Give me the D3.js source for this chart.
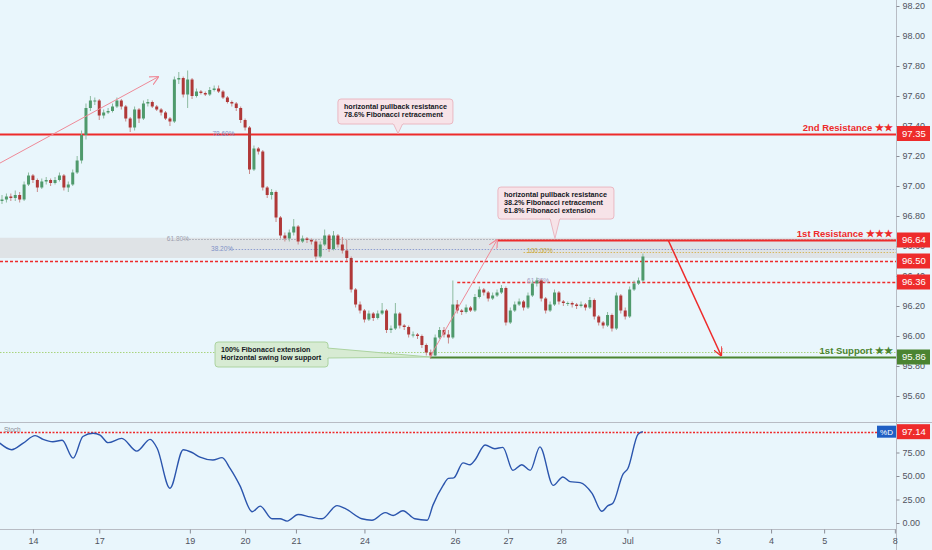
<!doctype html>
<html>
<head>
    <meta charset="utf-8">
    <title>DXY H2 - resistance / support</title>
    <script src="https://cdn.jsdelivr.net/npm/d3@7"></script>
    <style type="text/css">
        html, body { margin: 0; padding: 0; background: #e9f6fc; }
        svg { display: block; font-family: "Liberation Sans", Arial, sans-serif; }
    </style>
</head>
<body>
<svg id="chart" width="932" height="550"></svg>

<script type="text/javascript">
// 2h candles, bar index on x. open of a bar = close of the bar before
var firstOpen = 96.90;
var closes = [96.91,96.93,96.92,96.94,96.91,97.01,97.07,97.04,96.99,97.03,
    97.04,97.02,97.04,97.07,96.99,97.01,97.09,97.17,97.34,97.52,
    97.57,97.57,97.47,97.49,97.50,97.53,97.57,97.53,97.45,97.39,
    97.51,97.45,97.55,97.56,97.53,97.51,97.49,97.45,97.43,97.71,
    97.72,97.61,97.71,97.60,97.63,97.62,97.61,97.64,97.65,97.63,
    97.59,97.56,97.55,97.52,97.44,97.39,97.11,97.25,97.23,96.99,
    96.94,96.96,96.79,96.67,96.65,96.69,96.73,96.63,96.65,96.64,
    96.63,96.53,96.61,96.67,96.58,96.67,96.61,96.57,96.52,96.31,
    96.21,96.17,96.11,96.15,96.12,96.15,96.17,96.04,96.05,96.15,
    96.07,96.06,96.01,96.01,96.00,95.94,95.89,95.87,95.99,96.04,
    96.01,95.99,96.21,96.17,96.16,96.19,96.17,96.26,96.31,96.29,
    96.25,96.27,96.29,96.32,96.09,96.17,96.21,96.23,96.19,96.27,
    96.35,96.37,96.25,96.17,96.21,96.29,96.23,96.22,96.22,96.21,
    96.20,96.21,96.19,96.24,96.13,96.09,96.07,96.14,96.05,96.27,
    96.17,96.13,96.31,96.35,96.37,96.53];
var highs = [96.94,96.95,96.95,96.97,96.96,97.03,97.09,97.08,97.05,97.05,
    97.06,97.05,97.06,97.09,97.08,97.03,97.11,97.20,97.37,97.55,
    97.60,97.59,97.58,97.51,97.52,97.55,97.59,97.58,97.54,97.46,
    97.53,97.52,97.57,97.58,97.57,97.54,97.52,97.50,97.46,97.73,
    97.76,97.73,97.77,97.72,97.65,97.64,97.63,97.66,97.67,97.67,
    97.64,97.60,97.57,97.56,97.53,97.45,97.40,97.27,97.26,97.24,
    97.00,96.98,96.97,96.80,96.69,96.71,96.78,96.74,96.67,96.66,
    96.65,96.64,96.63,96.71,96.68,96.70,96.68,96.66,96.64,96.53,
    96.32,96.23,96.18,96.17,96.16,96.17,96.22,96.18,96.07,96.22,
    96.16,96.08,96.07,96.03,96.02,96.01,95.95,95.91,96.01,96.06,
    96.06,96.04,96.37,96.24,96.18,96.21,96.20,96.28,96.33,96.32,
    96.30,96.29,96.31,96.34,96.33,96.19,96.23,96.25,96.24,96.29,
    96.37,96.39,96.38,96.26,96.23,96.31,96.30,96.24,96.23,96.23,
    96.22,96.23,96.22,96.26,96.25,96.14,96.10,96.16,96.15,96.29,
    96.28,96.19,96.33,96.37,96.39,96.55];
var lows = [96.88,96.89,96.90,96.90,96.89,96.90,97.00,97.02,96.96,96.98,
    97.01,97.00,97.01,97.03,96.97,96.96,97.00,97.08,97.15,97.31,
    97.50,97.54,97.44,97.45,97.48,97.49,97.52,97.51,97.43,97.36,
    97.37,97.42,97.44,97.53,97.52,97.50,97.47,97.44,97.40,97.42,
    97.68,97.59,97.52,97.58,97.59,97.61,97.60,97.60,97.63,97.62,
    97.58,97.55,97.53,97.50,97.42,97.37,97.08,97.10,97.21,96.97,
    96.92,96.91,96.76,96.65,96.63,96.63,96.67,96.61,96.62,96.62,
    96.61,96.51,96.52,96.60,96.56,96.57,96.59,96.55,96.50,96.29,
    96.19,96.15,96.09,96.10,96.10,96.11,96.14,96.02,96.02,96.04,
    96.05,96.04,95.99,95.99,95.98,95.92,95.87,95.85,95.86,95.98,
    95.99,95.95,95.98,96.15,96.14,96.15,96.16,96.16,96.25,96.27,
    96.23,96.24,96.26,96.28,96.07,96.08,96.16,96.20,96.17,96.18,
    96.26,96.33,96.23,96.15,96.16,96.20,96.21,96.20,96.20,96.19,
    96.18,96.19,96.17,96.18,96.11,96.07,96.05,96.06,96.03,96.04,
    96.15,96.11,96.12,96.30,96.34,96.36];

// stochastic %D, read as [bar index, value]
var stochPts = [[-0.5,85],[2.2,78],[4.8,85],[7.5,93],[9.3,89],[11.5,86.5],[13.6,88],[16.1,69],
    [18.3,92],[20.6,95.5],[22.2,93.5],[24,85.5],[27.1,90],[30.5,76.5],[33.5,89],[35.1,79.5],
    [38,37],[41,78],[43,75],[44.8,70],[47.7,67],[49.8,69.5],[51.6,58],[53.8,40],[56.6,12],
    [58.4,18],[61.1,4.5],[62.9,4.5],[64.5,2],[67,9],[69.7,6.5],[72.4,4.5],[75.8,18.5],
    [77.6,15.5],[81.4,4.5],[83.7,3],[86.7,11],[88.5,8],[90.7,13],[93.4,4.5],[96.2,3],
    [97.5,19],[99.8,40],[101,47.5],[102.2,48],[104.3,64],[105.9,62],[107,67],[109.3,83],
    [111.5,79],[113.3,80.5],[115.6,56],[117.6,62],[119.5,56],[121.7,81],[124.7,40],
    [126.9,49],[128.5,44],[130.8,43],[133.5,31.5],[135.7,12.5],[137.1,18.5],[138.2,21],
    [140.5,52],[141.6,58],[143.9,94.5],[145,97.14]];

var dayTicks  = [7, 22, 42.5, 55, 66.5, 82, 102.5, 114.5, 126.5, 141.5, 162, 174, 186, 202];
var dayLabels = ["14","17","19","20","21","24","26","27","28","Jul","3","4","5","8"];
var priceTicks = [98.2, 98.0, 97.8, 97.6, 97.4, 97.2, 97.0, 96.8, 96.6, 96.4, 96.2, 96.0, 95.8, 95.6];
var stochTicks = [75, 50, 25, 0];

var res2 = 97.35, res1 = 96.64, midRes = 96.50, minorRes = 96.36, sup1 = 95.86;
var supDotted = 95.89;
var stochLast = 97.14;
// fib zone
var fibZone = [96.52, 96.655];
var fib618 = 96.647, fib382 = 96.583, fib100 = 96.56;

// -------------------------------------------------------------
var svg = d3.select("#chart");
var axisX = 896, sepY = 422, xAxisY = 529;
var RED = "#ee2b2b", GREEN = "#4b8431", UP = "#4f9a6c", DOWN = "#b03838";

var x = d3.scaleLinear().domain([0, 202.26]).range([2, axisX]);
var y = d3.scaleLinear().domain([95.6, 98.2]).range([396, 6]);
var ys = d3.scaleLinear().domain([0, 100]).range([523, 429]);

svg.append("rect").attr("width", 932).attr("height", 550).attr("fill", "#e9f6fc");

var defs = svg.append("defs");
defs.append("clipPath").attr("id", "mainClip")
    .append("rect").attr("x", 0).attr("y", 0).attr("width", axisX).attr("height", sepY);
function arrowMarker(id, color) {
    defs.append("marker").attr("id", id)
        .attr("viewBox", "0 0 10 10").attr("refX", 9).attr("refY", 5)
        .attr("markerWidth", 9).attr("markerHeight", 9).attr("markerUnits", "userSpaceOnUse")
        .attr("orient", "auto")
        .append("path").attr("d", "M0,0 L10,5 L0,10")
        .attr("fill", "none").attr("stroke", color).attr("stroke-width", 1.3);
}
arrowMarker("arrPink", "#ef8a98");
arrowMarker("arrRed", RED);

var main = svg.append("g").attr("clip-path", "url(#mainClip)");

// grey fib zone
main.append("rect")
    .attr("x", 0).attr("width", axisX)
    .attr("y", y(fibZone[1])).attr("height", y(fibZone[0]) - y(fibZone[1]))
    .attr("fill", "#dfe3e6");

function hline(g, val, x0, x1, color, width, dash) {
    return g.append("line")
        .attr("x1", x0).attr("x2", x1)
        .attr("y1", Math.round(y(val)) + 0.5).attr("y2", Math.round(y(val)) + 0.5)
        .attr("stroke", color).attr("stroke-width", width)
        .attr("stroke-dasharray", dash || null);
}

// fib dotted levels
hline(main, fib618, x(41), axisX, "#a7a9b3", 1, "1.5,1.5");
hline(main, fib382, x(51.5), axisX, "#8f9fd0", 1, "1.5,1.5");
hline(main, fib100, x(118), axisX, "#d6b960", 1, "1.5,1.5");
hline(main, res2, x(51.5), axisX, "#8f9fd0", 1, "1.5,1.5");
hline(main, supDotted, 0, axisX, "#a9d47e", 1, "1.5,1.5");

// levels
hline(main, res2, 0, axisX, RED, 2);
hline(main, res1, x(112), axisX, RED, 2);
hline(main, midRes, 0, axisX, RED, 1.5, "3,2");
hline(main, minorRes, x(103), axisX, RED, 1.5, "3,2");
hline(main, sup1, x(96.8), axisX, GREEN, 2);

// fib % labels
var fibLabels = [
    { t: "78.60%", i: 47.6, v: res2, c: "#7f92c6" },
    { t: "61.80%", i: 37.3, v: fib618, c: "#9d9fae" },
    { t: "38.20%", i: 47.3, v: fib382, c: "#7f92c6" },
    { t: "100.00%", i: 118.8, v: fib100 + 0.01, c: "#c9a536" },
    { t: "61.80%", i: 118.8, v: minorRes + 0.005, c: "#a39ac2" }
];
main.selectAll("text.fib").data(fibLabels).enter().append("text")
    .attr("class", "fib")
    .attr("x", function(d) { return x(d.i); })
    .attr("y", function(d) { return y(d.v) + 2; })
    .attr("font-size", 6.5).attr("fill", function(d) { return d.c; })
    .text(function(d) { return d.t; });

// candles
var candles = closes.map(function(c, i) {
    return { i: i, o: i === 0 ? firstOpen : closes[i - 1], h: highs[i], l: lows[i], c: c };
});
var cg = main.append("g");
cg.selectAll("line.wick").data(candles).enter().append("line")
    .attr("x1", function(d) { return x(d.i); }).attr("x2", function(d) { return x(d.i); })
    .attr("y1", function(d) { return y(d.h); }).attr("y2", function(d) { return y(d.l); })
    .attr("stroke", function(d) { return d.c >= d.o ? "#8dbba0" : "#c98a8a"; })
    .attr("stroke-width", 1);
cg.selectAll("rect.body").data(candles).enter().append("rect")
    .attr("x", function(d) { return x(d.i) - 1.5; })
    .attr("width", 3)
    .attr("y", function(d) { return y(Math.max(d.o, d.c)); })
    .attr("height", function(d) { return Math.max(1, Math.abs(y(d.o) - y(d.c))); })
    .attr("fill", function(d) { return d.c >= d.o ? UP : DOWN; });

// arrows
function arrow(i0, v0, i1, v1, color, marker, w) {
    main.append("line")
        .attr("x1", x(i0)).attr("y1", y(v0)).attr("x2", x(i1)).attr("y2", y(v1))
        .attr("stroke", color).attr("stroke-width", w)
        .attr("marker-end", "url(#" + marker + ")");
}
arrow(-0.45, 97.153, 35.3, 97.727, "#ef8a98", "arrPink", 1);
arrow(96.8, 95.86, 112, 96.64, "#ef8a98", "arrPink", 1);
arrow(150.7, 96.64, 162.7, 95.87, RED, "arrRed", 1.5);

// callouts
function callout(o) {
    var g = main.append("g");
    var bx = x(o.i), by = y(o.v);
    var tx = x(o.tipI), ty = y(o.tipV);
    var pts;
    if (o.side === "bottom") {
        var cx = tx;
        pts = [[cx - 5, by + o.h - 1], [tx, ty], [cx + 5, by + o.h - 1]];
    } else {
        pts = [[bx + o.w - 1, by + 6], [tx, ty], [bx + o.w - 1, by + o.h - 9]];
    }
    g.append("rect").attr("x", bx).attr("y", by).attr("width", o.w).attr("height", o.h)
        .attr("rx", 3).attr("fill", o.fill).attr("stroke", o.stroke).attr("stroke-width", 1);
    g.append("path").attr("d", "M" + pts.join("L"))
        .attr("fill", o.fill).attr("stroke", o.stroke).attr("stroke-width", 1);
    g.append("rect").attr("x", pts[0][0] - (o.side === "bottom" ? 0 : 2)).attr("y", pts[0][1] - (o.side === "bottom" ? 2 : 0))
        .attr("width", o.side === "bottom" ? 10 : 3).attr("height", o.side === "bottom" ? 3 : pts[2][1] - pts[0][1])
        .attr("fill", o.fill);
    g.selectAll("text").data(o.lines).enter().append("text")
        .attr("x", bx + 6).attr("y", function(d, k) { return by + 10 + k * 8; })
        .attr("font-size", 7.2).attr("font-weight", "bold").attr("fill", "#131722")
        .text(function(d) { return d; });
}
callout({ i: 76, v: 97.58, w: 115, h: 25, tipI: 89.6, tipV: res2, side: "bottom",
    fill: "#f7e3e8", stroke: "#eab8c2",
    lines: ["horizontal pullback resistance", "78.6% Fibonacci retracement"] });
callout({ i: 112.2, v: 96.993, w: 116, h: 32, tipI: 125.1, tipV: res1 + 0.01, side: "bottom",
    fill: "#f7e3e8", stroke: "#eab8c2",
    lines: ["horizontal pullback resistance", "38.2% Fibonacci retracement", "61.8% Fibonacci extension"] });
callout({ i: 48.2, v: 95.96, w: 113, h: 25, tipI: 96.8, tipV: sup1, side: "right",
    fill: "#d7ebd3", stroke: "#acd3a0",
    lines: ["100% Fibonacci extension", "Horizontal swing low support"] });

// level titles
var titles = [
    { t: "2nd Resistance \u2605\u2605", v: res2, c: RED },
    { t: "1st Resistance \u2605\u2605\u2605", v: res1, c: RED },
    { t: "1st Support \u2605\u2605", v: sup1, c: GREEN }
];
svg.selectAll("text.title").data(titles).enter().append("text")
    .attr("class", "title")
    .attr("x", axisX - 3).attr("y", function(d) { return y(d.v) - 3; })
    .attr("text-anchor", "end").attr("font-size", 9.5).attr("font-weight", "bold")
    .attr("fill", function(d) { return d.c; })
    .text(function(d) { return d.t; });

// stochastic panel
svg.append("text").attr("x", 4).attr("y", 432).attr("font-size", 6.5).attr("fill", "#8a8d96").text("Stoch");
svg.append("line").attr("x1", 0).attr("x2", axisX)
    .attr("y1", Math.round(ys(stochLast)) + 0.5).attr("y2", Math.round(ys(stochLast)) + 0.5)
    .attr("stroke", RED).attr("stroke-width", 1.5).attr("stroke-dasharray", "2,1.5");
var stochLine = d3.line()
    .x(function(d) { return x(d[0]); })
    .y(function(d) { return ys(d[1]); })
    .curve(d3.curveMonotoneX);
svg.append("path").datum(stochPts).attr("d", stochLine)
    .attr("fill", "none").attr("stroke", "#2b55ad").attr("stroke-width", 1.4);

// frame lines
svg.append("line").attr("x1", 0).attr("x2", 932).attr("y1", sepY + 0.5).attr("y2", sepY + 0.5)
    .attr("stroke", "#b8bcc4").attr("stroke-width", 1);
svg.append("line").attr("x1", axisX + 0.5).attr("x2", axisX + 0.5).attr("y1", 0).attr("y2", 550)
    .attr("stroke", "#b8bcc4").attr("stroke-width", 1);

// price axis
var yAxis = d3.axisRight(y).tickValues(priceTicks).tickFormat(d3.format(".2f")).tickSize(3).tickPadding(3);
var gy = svg.append("g").attr("transform", "translate(" + (axisX + 0.5) + ",0)").call(yAxis);
var sAxis = d3.axisRight(ys).tickValues(stochTicks).tickFormat(d3.format(".2f")).tickSize(3).tickPadding(3);
var gs = svg.append("g").attr("transform", "translate(" + (axisX + 0.5) + ",0)").call(sAxis);
[gy, gs].forEach(function(g) {
    g.select(".domain").remove();
    g.selectAll(".tick line").attr("stroke", "#8a8d96");
    g.selectAll(".tick text").attr("font-size", 9).attr("fill", "#50535e")
        .attr("font-family", "'Liberation Sans', Arial, sans-serif");
});

// time axis
var xAxis = d3.axisBottom(x).tickValues(dayTicks)
    .tickFormat(function(d, k) { return dayLabels[k]; }).tickSize(4).tickPadding(4);
var gx = svg.append("g").attr("transform", "translate(0," + (xAxisY + 0.5) + ")").call(xAxis);
gx.select(".domain").attr("d", "M0,0H" + axisX).attr("stroke", "#b8bcc4");
gx.selectAll(".tick line").attr("stroke", "#8a8d96");
gx.selectAll(".tick text").attr("font-size", 9).attr("fill", "#50535e")
    .attr("font-family", "'Liberation Sans', Arial, sans-serif");

// price tags on the axis
var tags = [
    { v: res2, s: ys, sc: y, c: RED },
    { v: res1, sc: y, c: RED },
    { v: midRes, sc: y, c: RED },
    { v: minorRes, sc: y, c: RED },
    { v: sup1, sc: y, c: GREEN },
    { v: stochLast, sc: ys, c: RED }
];
tags.forEach(function(d) {
    var cy = d.sc(d.v);
    svg.append("rect").attr("x", axisX + 1).attr("y", cy - 7.5).attr("width", 33).attr("height", 15)
        .attr("fill", d.c);
    svg.append("text").attr("x", axisX + 6).attr("y", cy + 3.3)
        .attr("font-size", 9.5).attr("fill", "#ffffff").text(d.v.toFixed(2));
});
// %D badge
svg.append("rect").attr("x", 877).attr("y", ys(stochLast) - 6).attr("width", 19).attr("height", 12)
    .attr("fill", "#1f5fc4");
svg.append("text").attr("x", 886.5).attr("y", ys(stochLast) + 3).attr("text-anchor", "middle")
    .attr("font-size", 8).attr("fill", "#ffffff").text("%D");
</script>
</body>
</html>
